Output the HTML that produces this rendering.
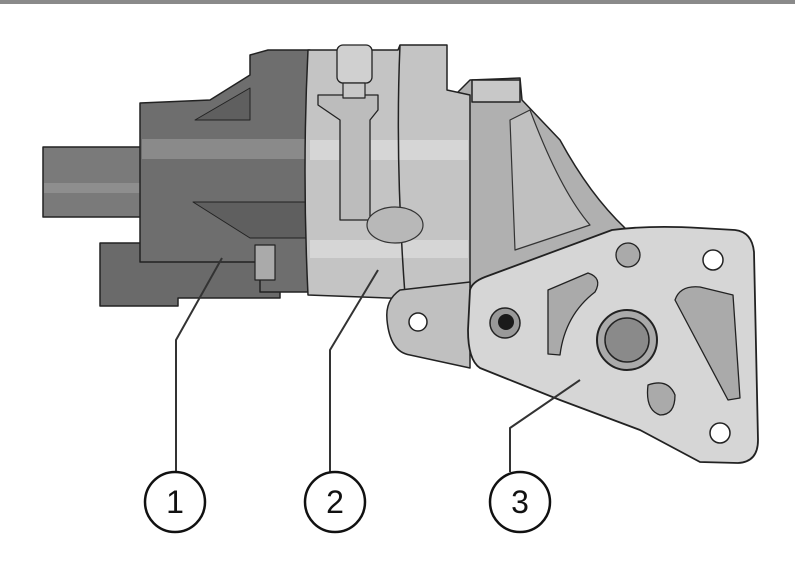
<!DOCTYPE html>
<html><head><style>html,body{margin:0;padding:0;background:#fff;width:795px;height:565px;overflow:hidden}</style></head>
<body>
<svg width="795" height="565" viewBox="0 0 795 565" xmlns="http://www.w3.org/2000/svg" stroke-linejoin="round">
<rect x="0" y="0" width="795" height="4" fill="#8a8a8a"/>
<!-- bracket back -->
<path d="M455 95 L470 80 L520 78 L522 100 L560 140 Q590 195 625 228 L480 290 L460 290 Z" fill="#b0b0b0" stroke="#222" stroke-width="1.5"/>
<path d="M472 80 h48 v22 h-48 z" fill="#c8c8c8" stroke="#222" stroke-width="1.5"/>
<path d="M510 120 L530 110 Q560 190 590 225 L515 250 Z" fill="#c0c0c0" stroke="#333" stroke-width="1.2"/>
<!-- left connector -->
<rect x="43" y="147" width="100" height="70" fill="#7a7a7a" stroke="#222" stroke-width="1.5"/>
<rect x="44" y="183" width="98" height="10" fill="#8e8e8e"/>
<!-- bottom connector -->
<path d="M100 243 H280 V298 H178 V306 H100 Z" fill="#6a6a6a" stroke="#222" stroke-width="1.5"/>
<!-- motor -->
<path d="M140 103 L210 100 L250 75 L250 55 L268 50 L310 50 L310 292 L260 292 L260 262 L140 262 Z" fill="#6e6e6e" stroke="#222" stroke-width="1.5"/>
<rect x="142" y="139" width="166" height="20" fill="#8a8a8a"/>
<path d="M195 120 L250 88 L250 120 Z" fill="#5f5f5f" stroke="#222" stroke-width="1"/>
<path d="M193 202 L310 202 L310 238 L250 238 Z" fill="#5f5f5f" stroke="#222" stroke-width="1"/>
<rect x="255" y="245" width="20" height="35" fill="#aaa" stroke="#222" stroke-width="1.2"/>
<!-- pump -->
<path d="M308 50 L398 50 L400 45 L447 45 L447 90 L470 95 L470 290 L440 300 L308 295 Q302 170 308 50 Z" fill="#c4c4c4" stroke="#222" stroke-width="1.5"/>
<rect x="310" y="140" width="158" height="20" fill="#d6d6d6"/>
<rect x="310" y="240" width="158" height="18" fill="#d6d6d6"/>
<path d="M318 95 L378 95 L378 110 L370 120 L370 220 L340 220 L340 120 L318 105 Z" fill="#bcbcbc" stroke="#222" stroke-width="1.3"/>
<path d="M400 45 Q395 160 405 295" fill="none" stroke="#222" stroke-width="1.5"/>
<rect x="337" y="45" width="35" height="38" rx="6" fill="#d0d0d0" stroke="#222" stroke-width="1.3"/>
<rect x="343" y="83" width="22" height="15" fill="#c8c8c8" stroke="#222" stroke-width="1.2"/>
<ellipse cx="395" cy="225" rx="28" ry="18" fill="#b8b8b8" stroke="#333" stroke-width="1.2"/>
<!-- ear -->
<path d="M470 282 L400 290 Q385 300 387 320 Q390 352 410 355 L470 368 Z" fill="#c0c0c0" stroke="#222" stroke-width="1.5"/>
<circle cx="418" cy="322" r="9" fill="#fff" stroke="#222" stroke-width="1.5"/>
<!-- plate -->
<path d="M470 290 Q472 282 485 277 L612 230 Q650 225 700 228 L735 230 Q752 232 754 252 L758 440 Q758 462 738 463 L700 462 L640 430 L560 400 L480 368 Q468 360 468 330 Z" fill="#d6d6d6" stroke="#222" stroke-width="1.8"/>
<circle cx="505" cy="323" r="15" fill="#999" stroke="#222" stroke-width="1.5"/>
<circle cx="506" cy="322" r="8" fill="#1a1a1a"/>
<circle cx="627" cy="340" r="30" fill="#aaa" stroke="#222" stroke-width="2"/>
<circle cx="627" cy="340" r="22" fill="#8a8a8a" stroke="#222" stroke-width="1.5"/>
<circle cx="628" cy="255" r="12" fill="#aaa" stroke="#222" stroke-width="1.3"/>
<circle cx="713" cy="260" r="10" fill="#fff" stroke="#222" stroke-width="1.5"/>
<circle cx="720" cy="433" r="10" fill="#fff" stroke="#222" stroke-width="1.5"/>
<path d="M548 290 L588 273 Q603 278 595 292 Q565 315 560 355 L548 354 Z" fill="#aaa" stroke="#222" stroke-width="1.3"/>
<path d="M675 300 Q680 285 700 287 L733 295 L740 398 L728 400 Z" fill="#aaa" stroke="#222" stroke-width="1.3"/>
<path d="M648 385 Q668 378 675 395 Q675 415 660 415 Q645 410 648 385 Z" fill="#aaa" stroke="#222" stroke-width="1.3"/>
<!-- leaders -->
<g fill="none" stroke="#333" stroke-width="2">
<path d="M176 472 V340 L222 258"/>
<path d="M330 472 V350 L378 270"/>
<path d="M510 472 V428 L580 380"/>
</g>
<g fill="#fff" stroke="#111" stroke-width="2.5">
<ellipse cx="175" cy="502" rx="30" ry="30"/>
<ellipse cx="335" cy="502" rx="30" ry="30"/>
<ellipse cx="520" cy="502" rx="30" ry="30"/>
</g>
<g font-family="Liberation Sans, sans-serif" font-size="32" fill="#111" text-anchor="middle">
<text x="175" y="513">1</text>
<text x="335" y="513">2</text>
<text x="520" y="513">3</text>
</g>
</svg>
</body></html>
